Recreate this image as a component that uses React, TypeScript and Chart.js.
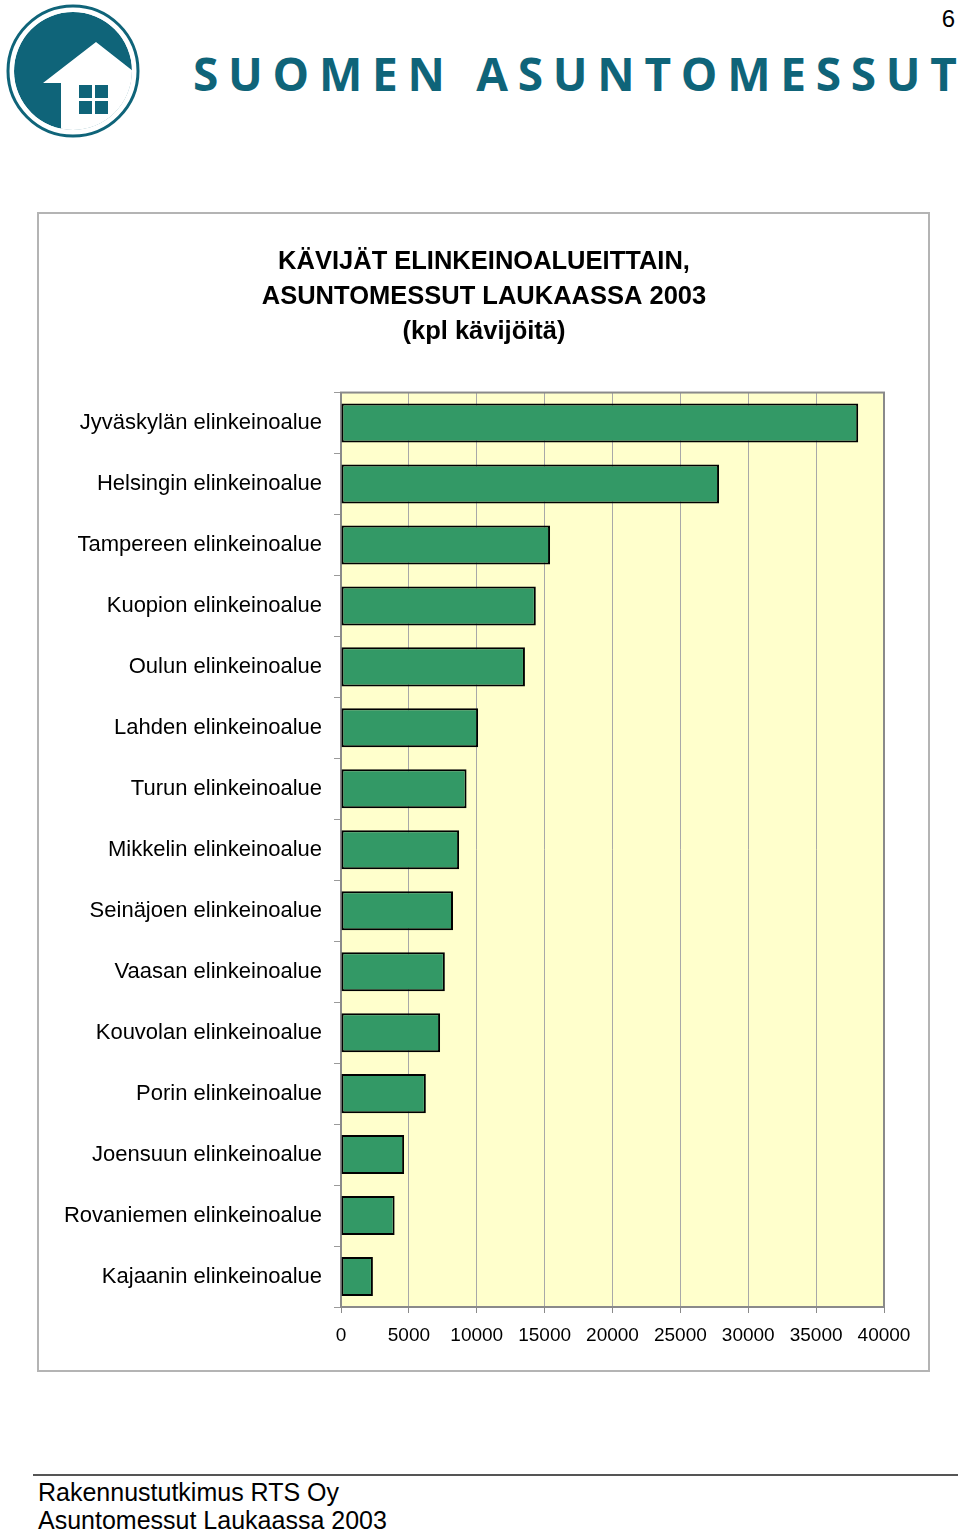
import React, { useEffect, useRef } from "react";
import { Chart, registerables } from "chart.js";

Chart.register(...registerables);

const categories = [
  "Jyväskylän elinkeinoalue",
  "Helsingin elinkeinoalue",
  "Tampereen elinkeinoalue",
  "Kuopion elinkeinoalue",
  "Oulun elinkeinoalue",
  "Lahden elinkeinoalue",
  "Turun elinkeinoalue",
  "Mikkelin elinkeinoalue",
  "Seinäjoen elinkeinoalue",
  "Vaasan elinkeinoalue",
  "Kouvolan elinkeinoalue",
  "Porin elinkeinoalue",
  "Joensuun elinkeinoalue",
  "Rovaniemen elinkeinoalue",
  "Kajaanin elinkeinoalue",
];

const visitors = [38100, 27850, 15400, 14350, 13550, 10100, 9250, 8700, 8250, 7650, 7300, 6250, 4650, 3950, 2350];

const titleLines = ["KÄVIJÄT ELINKEINOALUEITTAIN,", "ASUNTOMESSUT LAUKAASSA 2003", "(kpl kävijöitä)"];

const xMin = 0;
const xMax = 40000;
const xStep = 5000;

const brandText = "SUOMEN ASUNTOMESSUT";
const pageNumber = "6";
const footerLines = ["Rakennustutkimus RTS Oy", "Asuntomessut Laukaassa 2003"];

const TEAL = "#0f6479";
const FONT = "'Liberation Sans', Arial, sans-serif";

const plotDecor = {
  id: "plotDecor",
  afterLayout(chart: any) {
    const t = chart.titleBlock;
    if (t) {
      t.left = 0;
      t.right = chart.width;
      t.width = chart.width;
    }
  },
  beforeDraw(chart: any) {
    const { ctx, chartArea: a } = chart;
    ctx.save();
    ctx.fillStyle = "#ffffcc";
    ctx.fillRect(a.left, a.top, a.right - a.left, a.bottom - a.top);
    ctx.restore();
  },
  beforeDatasetsDraw(chart: any) {
    const { ctx, chartArea: a } = chart;
    ctx.save();
    ctx.strokeStyle = "#8a8a8a";
    ctx.lineWidth = 2;
    ctx.strokeRect(a.left, a.top, a.right - a.left, a.bottom - a.top);
    ctx.restore();
  },
};

function BarChart() {
  const ref = useRef<HTMLCanvasElement | null>(null);
  useEffect(() => {
    if (!ref.current) return;
    const chart = new Chart(ref.current, {
      type: "bar",
      data: {
        labels: categories,
        datasets: [
          {
            data: visitors,
            backgroundColor: "#339966",
            borderColor: "#000000",
            borderWidth: 2,
            borderSkipped: false,
            categoryPercentage: 1,
            barPercentage: 0.64,
          },
        ],
      },
      options: {
        indexAxis: "y",
        animation: false,
        responsive: false,
        devicePixelRatio: 1,
        layout: { padding: { left: 0, right: 44, top: 0, bottom: 0 } },
        plugins: {
          legend: { display: false },
          tooltip: { enabled: false },
          title: {
            display: true,
            text: titleLines,
            color: "#000",
            font: { family: FONT, size: 25.5, weight: "bold", lineHeight: 1.36 },
            padding: { top: 31, bottom: 43.5 },
          },
        },
        scales: {
          x: {
            type: "linear",
            min: xMin,
            max: xMax,
            ticks: {
              stepSize: xStep,
              color: "#000",
              font: { family: FONT, size: 19 },
              padding: 11,
              maxRotation: 0,
              callback: (v: any) => String(v),
            },
            grid: {
              color: "#a8a8a8",
              lineWidth: 1,
              tickLength: 6,
              tickColor: "#8a8a8a",
            },
            border: { color: "#8a8a8a", width: 2 },
            afterFit: (s: any) => {
              s.height = 63;
            },
          },
          y: {
            ticks: {
              color: "#000",
              font: { family: FONT, size: 22 },
              padding: 12,
              autoSkip: false,
            },
            grid: {
              offset: true,
              drawOnChartArea: false,
              drawTicks: true,
              tickLength: 7,
              tickColor: "#9a9a9a",
            },
            border: { color: "#8a8a8a", width: 2 },
            afterFit: (s: any) => {
              s.width = 301;
            },
          },
        },
      },
      plugins: [plotDecor],
    } as any);
    return () => chart.destroy();
  }, []);
  return (
    <canvas
      ref={ref}
      width={888}
      height={1156}
      style={{ position: "absolute", left: 40, top: 214, width: 888, height: 1156 }}
    />
  );
}

function Logo() {
  return (
    <svg width={150} height={145} style={{ position: "absolute", left: 0, top: 0 }}>
      <defs>
        <clipPath id="logoClip">
          <circle cx={73} cy={71} r={59} />
        </clipPath>
      </defs>
      <circle cx={73} cy={71} r={65} fill="#fff" stroke={TEAL} strokeWidth={3} />
      <g clipPath="url(#logoClip)">
        <circle cx={73} cy={71} r={59} fill={TEAL} />
        <polygon points="43,83 96,42 142,78 142,140 61,140 61,83" fill="#fff" />
        <rect x={79} y={85} width={13} height={13} fill={TEAL} />
        <rect x={95} y={85} width={13} height={13} fill={TEAL} />
        <rect x={79} y={101} width={13} height={13} fill={TEAL} />
        <rect x={95} y={101} width={13} height={13} fill={TEAL} />
      </g>
    </svg>
  );
}

export default function App() {
  return (
    <div style={{ position: "absolute", left: 0, top: 0, width: 960, height: 1530, background: "#fff", overflow: "hidden" }}>
      <Logo />
      <svg width={960} height={110} style={{ position: "absolute", left: 0, top: 0 }}>
        <text
          x={193}
          y={91}
          textLength={764}
          lengthAdjust="spacing"
          fill={TEAL}
          style={{ fontFamily: "'Open Sans', 'DejaVu Sans', sans-serif", fontWeight: 700, fontSize: 46 }}
        >
          {brandText}
        </text>
        <text x={955} y={27} textAnchor="end" fill="#000" style={{ fontFamily: FONT, fontSize: 24 }}>
          {pageNumber}
        </text>
      </svg>
      <div
        style={{
          position: "absolute",
          left: 37,
          top: 212,
          width: 893,
          height: 1160,
          border: "2px solid #b4b4b4",
          boxSizing: "border-box",
        }}
      />
      <BarChart />
      <div style={{ position: "absolute", left: 33, top: 1474, width: 925, height: 2, background: "#555" }} />
      <div
        style={{
          position: "absolute",
          left: 38,
          top: 1478,
          fontFamily: FONT,
          fontSize: 25,
          lineHeight: "28px",
          color: "#000",
          whiteSpace: "nowrap",
        }}
      >
        {footerLines.map((l) => (
          <div key={l}>{l}</div>
        ))}
      </div>
    </div>
  );
}
